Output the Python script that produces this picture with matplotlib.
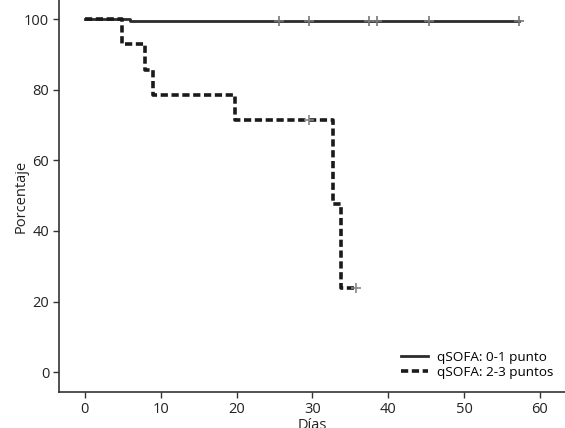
import matplotlib
matplotlib.use("Agg")
import matplotlib.pyplot as plt

# qSOFA 0-1: tiempos de evento y porcentaje
t_low = [0, 5.9, 57.3]
s_low = [100, 99.4, 99.4]
cens_low_t = [25.6, 29.6, 37.5, 38.5, 45.4, 57.3]

# qSOFA 2-3
t_high = [0, 4.9, 7.9, 9.0, 19.8, 32.7, 33.8, 35.8]
s_high = [100, 92.9, 85.7, 78.6, 71.4, 47.6, 23.8, 23.8]
cens_high_t = [29.6, 35.8]

x_ticks = [0, 10, 20, 30, 40, 50, 60]
y_ticks = [0, 20, 40, 60, 80, 100]

plt.rcParams['font.family'] = ['Open Sans', 'DejaVu Sans']

fig = plt.figure(figsize=(5.65, 4.28), dpi=100)
ax = fig.add_axes([0.1044, 0.0841, 0.8956, 0.9159])

ax.step(t_low, s_low, where='post', color='#2b2b2b', lw=2.0,
        label='qSOFA: 0-1 punto')
ax.step(t_high, s_high, where='post', color='#1a1a1a', lw=2.6,
        dashes=(2.0, 1.0), label='qSOFA: 2-3 puntos')

def surv_at(ts, ss, t):
    v = ss[0]
    for a, b in zip(ts, ss):
        if a <= t:
            v = b
    return v

ax.plot(cens_low_t, [surv_at(t_low, s_low, t) for t in cens_low_t], ls='none',
        marker='+', ms=7, mew=1.2, color='#777777')
ax.plot(cens_high_t, [surv_at(t_high, s_high, t) for t in cens_high_t], ls='none',
        marker='+', ms=7, mew=1.2, color='#888888')

ax.set_xlim(-3.4, 63.3)
ax.set_ylim(-5.6, 105.4)
ax.set_xticks(x_ticks)
ax.set_yticks(y_ticks)
ax.tick_params(direction='out', length=4, width=1, color='#333333',
               labelsize=10.5, labelcolor='#222222', pad=3)
for s in ['top', 'right']:
    ax.spines[s].set_visible(False)
for s in ['left', 'bottom']:
    ax.spines[s].set_color('#333333')
    ax.spines[s].set_linewidth(1.2)

ax.set_ylabel('Porcentaje', fontsize=10.5, color='#222222', labelpad=-3)
ax.set_xlabel('Días', fontsize=10.5, color='#222222', labelpad=1)

ax.legend(loc='lower right', bbox_to_anchor=(1.0, 0.002), frameon=False,
          fontsize=9.7, handlelength=2.0, handletextpad=0.6, labelspacing=0.15)

fig.savefig('out.png', dpi=100)
